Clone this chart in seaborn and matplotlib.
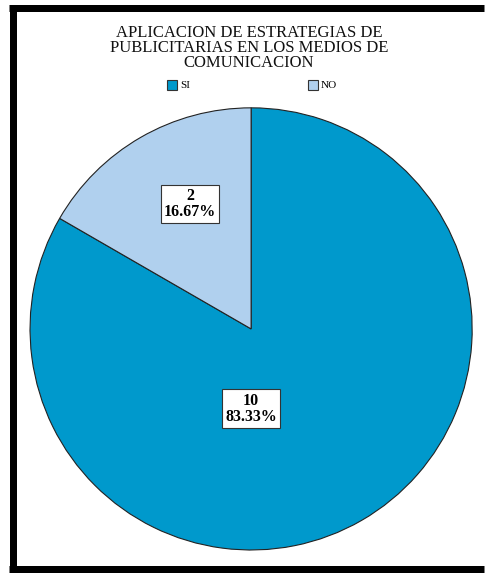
import matplotlib
matplotlib.use("Agg")
import matplotlib.pyplot as plt
from matplotlib.patches import Rectangle
from matplotlib.lines import Line2D
import numpy as np
import seaborn as sns

# Survey answers
categories = ["SI", "NO"]
counts = [10, 2]
title = "APLICACION DE ESTRATEGIAS DE\nPUBLICITARIAS EN LOS MEDIOS DE\nCOMUNICACION"

colors = sns.color_palette(["#0099CC", "#B0D0EE"])

plt.rcParams["font.family"] = ["Liberation Serif", "DejaVu Serif"]

W, H = 485, 573
fig = plt.figure(figsize=(W / 100 + 0.002, H / 100 + 0.002), dpi=100)
fig.patch.set_facecolor("white")

# pie placement (pixels from top-left)
cx, cy, r = 251, 329, 221
ax = fig.add_axes([(cx - r) / W, (H - cy - r) / H, 2 * r / W, 2 * r / H])
ax.axis("off")

total = sum(counts)
wedges, _ = ax.pie(counts, colors=colors, startangle=90, counterclock=False,
                   radius=1, wedgeprops=dict(edgecolor="#222222", linewidth=0.8))
ax.set_xlim(-1, 1)
ax.set_ylim(-1, 1)
ax.set_aspect("equal")

# value labels inside the slices
label_pos = {"SI": (270, 0.36), "NO": (116, 0.63)}
for cat, n in zip(categories, counts):
    ang, dist = label_pos[cat]
    x = dist * np.cos(np.deg2rad(ang))
    y = dist * np.sin(np.deg2rad(ang))
    ax.text(x, y, f"{n}\n{n / total * 100:.2f}%", ha="center", va="center",
            fontsize=11.5, fontweight="bold", linespacing=1.0,
            bbox=dict(boxstyle="square,pad=0.2", facecolor="white",
                      edgecolor="#333333", linewidth=0.8))

# title
fig.text(249 / W, 1 - 48 / H, title, ha="center", va="center",
         fontsize=12, fontweight="normal", linespacing=0.95, color="#111111")

# legend
for cat, col, lx in zip(categories, colors, [167, 308]):
    fig.patches.append(Rectangle((lx / W, 1 - 90 / H), 10 / W, 10 / H,
                                 transform=fig.transFigure, facecolor=col,
                                 edgecolor="#333333", linewidth=0.8))
    fig.text((lx + 13) / W, 1 - 85 / H, cat, ha="left", va="center", fontsize=8)

# outer frame: left, top and bottom rules
lw = 7 * 72 / 100
x0, y_top, y_bot = 12.5, 8.5, 569.5
for xs, ys in [([x0, x0], [y_top - 3.5, y_bot + 3.5]),
               ([x0 - 3.5, W - 1], [y_top, y_top]),
               ([x0 - 3.5, W - 1], [y_bot, y_bot])]:
    fig.lines.append(Line2D([v / W for v in xs], [1 - v / H for v in ys],
                            transform=fig.transFigure, color="black",
                            linewidth=lw, solid_capstyle="butt"))

fig.savefig("out.png", dpi=100, facecolor="white")
